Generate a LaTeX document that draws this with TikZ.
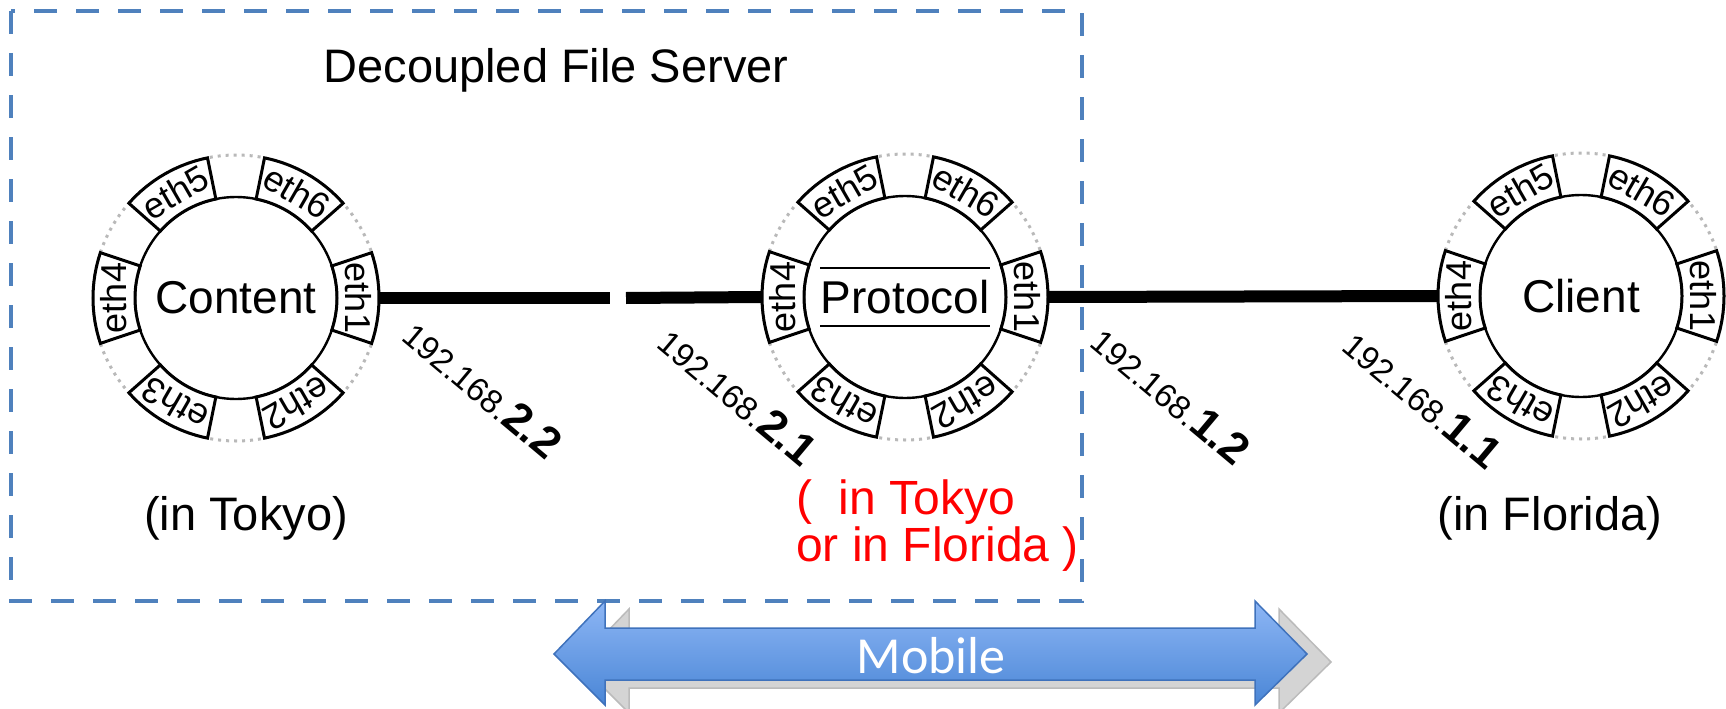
\documentclass[tikz,border=0pt]{standalone}
\usepackage{fontspec}
\setmainfont{Liberation Sans}
\newfontfamily\mobilefont{Carlito}
\definecolor{groupblue}{HTML}{4F81BD}
\definecolor{arrowtop}{HTML}{8DB6F5}
\definecolor{arrowbot}{HTML}{4A86D6}
\definecolor{arrowline}{HTML}{3F72BC}
\definecolor{shadowgray}{HTML}{D4D4D4}
\definecolor{shadowline}{HTML}{BBBBBB}
\tikzset{
  hub/.style={circle, draw, line width=2.4pt, minimum size=202pt, inner sep=0pt, fill=white, font=\fontsize{46}{46}\selectfont},
  tabbox/.style={draw, line width=3pt, fill=white, line join=miter},
  tablabel/.style={font=\fontsize{36}{36}\selectfont, inner sep=0pt},
  ring/.style={draw=gray!55, line width=3pt, dash pattern=on 3pt off 5pt},
  link/.style={line width=12pt},
  bar/.style={line width=2.6pt},
  iplabel/.style={rotate=-40, inner sep=0pt, font=\fontsize{33}{33}\selectfont},
  caption/.style={font=\fontsize{47}{47}\selectfont, inner sep=0pt},
  group/.style={draw=groupblue, line width=4.5pt, dash pattern=on 23pt off 19pt},
}
\newcommand\ethring[1]{%
  \draw[ring] (#1.center) circle[radius=143];
  \foreach \a/\l in {0/eth1,60/eth6,120/eth5,180/eth4,240/eth3,300/eth2}{%
    \begin{scope}[shift={(#1.center)}, rotate=\a]
      \draw[tabbox] (-18.5:101) -- (-18.5:143) arc[start angle=-18.5, end angle=18.5, radius=143] -- (18.5:101) arc[start angle=18.5, end angle=-18.5, radius=101] -- cycle;
      \node[tablabel, rotate=\a-90] (#1-\l) at (122,0) {\l};
      \coordinate (#1-\l-out) at (143,0);
    \end{scope}}%
}
\begin{document}
\begin{tikzpicture}[x=1pt, y=1pt]
\useasboundingbox (0,0) rectangle (1726,-709);
% group box
\draw[group] (11,-11) rectangle (1082,-601);
\node[caption] (title) at (556,-70) {Decoupled File Server};
% hubs
\node[hub] (content) at (236,-298) {Content};
\ethring{content}
\node[hub] (protocol) at (905,-297) {Protocol};
\ethring{protocol}
\draw[bar] ([shift={(-85,29)}]protocol.center) -- ([shift={(85,29)}]protocol.center);
\draw[bar] ([shift={(-85,-29)}]protocol.center) -- ([shift={(85,-29)}]protocol.center);
\node[hub] (client) at (1581,-296) {Client};
\ethring{client}
% links
\coordinate (gapL) at (610,-298);
\coordinate (gapR) at (626,-298);
\draw[link] (content-eth1-out) -- (gapL);
\draw[link] (gapR) -- (protocol-eth4-out);
\draw[link] (protocol-eth1-out) -- (client-eth4-out);
% ip labels
\node[iplabel] (ip22) at (483,-389) {192.168.{\fontsize{44}{44}\selectfont\bfseries 2.2}};
\node[iplabel] (ip21) at (738,-396) {192.168.{\fontsize{44}{44}\selectfont\bfseries 2.1}};
\node[iplabel] (ip12) at (1171,-395) {192.168.{\fontsize{44}{44}\selectfont\bfseries 1.2}};
\node[iplabel] (ip11) at (1423,-399) {192.168.{\fontsize{44}{44}\selectfont\bfseries 1.1}};
% captions
\node[caption] (tokyo) at (246,-518) {(in Tokyo)};
\node[caption] (florida) at (1550,-518) {(in Florida)};
\node[caption, font=\fontsize{48}{47}\selectfont, text=red, align=left, anchor=west] (where) at (796,-526) {(\ \ in Tokyo\\or in Florida )};
% mobile arrow
\begin{scope}[shift={(24,-8)}]
\path[fill=shadowgray, draw=shadowline, line width=1.5pt] (554,-654) -- (605,-601) -- (605,-628) -- (1255,-628) -- (1255,-601) -- (1307,-654) -- (1255,-705) -- (1255,-680) -- (605,-680) -- (605,-705) -- cycle;
\end{scope}
\path[top color=arrowtop, bottom color=arrowbot, draw=arrowline, line width=1.5pt] (554,-654) -- (605,-601) -- (605,-628) -- (1255,-628) -- (1255,-601) -- (1307,-654) -- (1255,-705) -- (1255,-680) -- (605,-680) -- (605,-705) -- cycle;
\node[font=\mobilefont\fontsize{52}{52}\selectfont, text=white, inner sep=0pt] (mobile) at (931,-656) {Mobile};
\end{tikzpicture}
\end{document}
